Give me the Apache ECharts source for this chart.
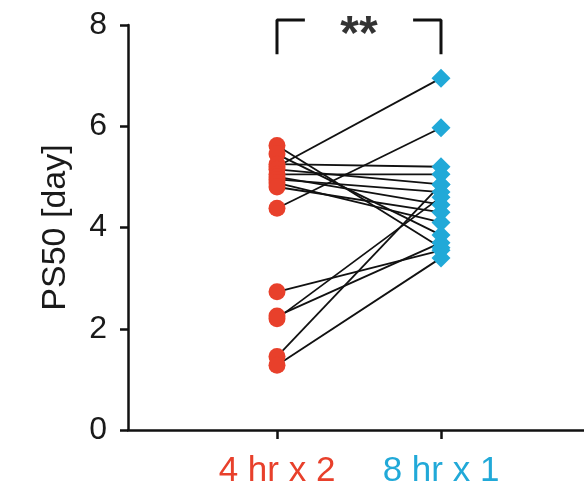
<!DOCTYPE html>
<html>
<head>
<meta charset="utf-8">
<script src="https://cdn.jsdelivr.net/npm/echarts@6/dist/echarts.min.js"></script>
<style>
html,body{margin:0;padding:0;background:#fff;}
#chart{width:584px;height:489px;}
</style>
</head>
<body>
<div id="chart"></div>
<script>
// groups on x axis
var groups = ['4 hr x 2', '8 hr x 1'];
var groupColors = ['#e8402b', '#21a9d8'];
// paired PS50 values
var ps50Split = [4.38, 5.2, 5.62, 5.45, 5.25, 5.15, 5.05, 5.0, 4.95, 4.88, 4.8, 2.73, 2.25, 2.2, 1.45, 1.28];
var ps50Single = [5.97, 6.95, 3.6, 3.85, 5.2, 4.85, 5.05, 4.45, 4.7, 4.1, 4.3, 3.55, 3.7, 4.6, 4.85, 3.4];
var yTicks = [0, 2, 4, 6, 8];

var myChart = echarts.init(document.getElementById('chart'));

var series = [];
// connecting lines
for (var i = 0; i < ps50Split.length; i++) {
	series.push({
		type: 'line',
		data: [[1, ps50Split[i]], [2, ps50Single[i]]],
		symbol: 'none',
		silent: true,
		lineStyle: {color: '#111', width: 1.8},
		z: 2
	});
}
series.push({
	type: 'scatter',
	data: ps50Split.map(function(v){ return [1, v]; }),
	symbol: 'circle',
	symbolSize: 17,
	itemStyle: {color: groupColors[0], opacity: 1},
	z: 3
});
series.push({
	type: 'scatter',
	data: ps50Single.map(function(v){ return [2, v]; }),
	symbol: 'diamond',
	symbolSize: 19,
	itemStyle: {color: groupColors[1], opacity: 1},
	z: 3
});
// significance bracket
series.push({
	type: 'line',
	data: [[1, 7.42], [1, 8.1], [1.17, 8.1]],
	symbol: 'none',
	clip: false,
	lineStyle: {color: '#111', width: 3}
});
series.push({
	type: 'line',
	data: [[1.83, 8.1], [2, 8.1], [2, 7.42]],
	symbol: 'none',
	clip: false,
	lineStyle: {color: '#111', width: 3}
});
series.push({
	type: 'scatter',
	data: [[1.5, 7.78]],
	symbolSize: 0,
	clip: false,
	label: {show: true, formatter: '**', position: 'inside', fontSize: 48, fontWeight: 'bold', color: '#000', fontFamily: 'Liberation Sans'}
});

var option = {
	animation: false,
	backgroundColor: '#fff',
	grid: {left: 128, right: 0, top: 25, bottom: 59},
	xAxis: {
		type: 'value',
		min: 0.0915,
		max: 2.872,
		splitLine: {show: false},
		axisLine: {lineStyle: {color: '#111', width: 2.5}},
		axisTick: {show: true, length: 9, customValues: [1, 2], lineStyle: {color: '#111', width: 2.5}},
		axisLabel: {
			customValues: [1, 2],
			margin: 24,
			formatter: function(v){ return v === 1 ? '{a|' + groups[0] + '}' : '{b|' + groups[1] + '}'; },
			rich: {
				a: {color: groupColors[0], fontSize: 35, fontFamily: 'Liberation Sans'},
				b: {color: groupColors[1], fontSize: 35, fontFamily: 'Liberation Sans'}
			}
		}
	},
	yAxis: {
		type: 'value',
		min: yTicks[0],
		max: yTicks[yTicks.length - 1],
		interval: 2,
		name: 'PS50 [day]',
		nameLocation: 'middle',
		nameGap: 55,
		nameTextStyle: {fontSize: 34, color: '#1a1a1a', fontFamily: 'Liberation Sans'},
		splitLine: {show: false},
		axisLine: {show: true, lineStyle: {color: '#111', width: 2.5}},
		axisTick: {show: true, length: 8, lineStyle: {color: '#111', width: 2.5}},
		axisLabel: {fontSize: 32, color: '#1a1a1a', margin: 21, fontFamily: 'Liberation Sans'}
	},
	series: series
};
myChart.setOption(option);
</script>
</body>
</html>
